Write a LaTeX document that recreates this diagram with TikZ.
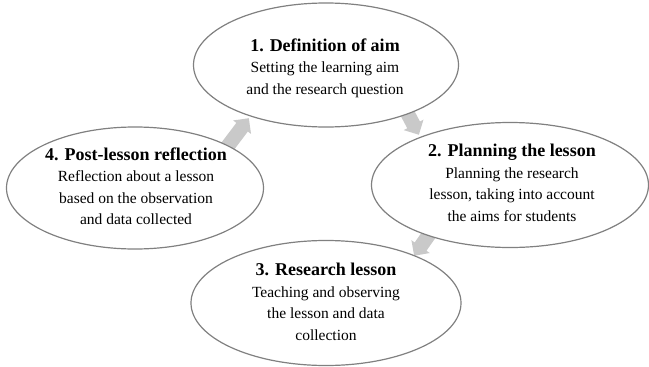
\documentclass[tikz,border=0pt]{standalone}
\usepackage{fontspec}
\setmainfont{Liberation Serif}
\usetikzlibrary{shapes.geometric,shapes.arrows}
\definecolor{ovalline}{HTML}{808080}
\definecolor{arrowfill}{HTML}{C9C9C9}
\tikzset{
  oval/.style={ellipse, draw=ovalline, line width=1.2pt, fill=white, inner sep=0pt},
  txt/.style={align=center, inner sep=0pt, font=\fontsize{15.5}{21.5}\selectfont},
  cyclearrow/.style={single arrow, fill=arrowfill, draw=none, minimum height=46pt,
    inner xsep=0pt, inner ysep=7pt, single arrow head extend=4pt},
}
\newcommand{\ttl}[1]{{\bfseries\fontsize{18}{21.5}\selectfont #1}}
\begin{document}
\begin{tikzpicture}[x=1pt,y=1pt]
  \useasboundingbox (0,0) rectangle (649,-367);
  % arrows of the cycle, mostly hidden behind the ovals
  \node[cyclearrow, rotate=-62, anchor=tip] (a12) at (419,-135) {};
  \node[cyclearrow, rotate=-125, anchor=tip] (a23) at (414,-256) {};
  \node[cyclearrow, rotate=132, anchor=tip] (a34) at (231,-258) {};
  \node[cyclearrow, rotate=53, anchor=tip] (a41) at (249,-118) {};
  % the four stages
  \node[oval, minimum width=265pt, minimum height=124pt] (e1) at (326,-65) {};
  \node[oval, minimum width=277pt, minimum height=125pt] (e2) at (510,-185) {};
  \node[oval, minimum width=270pt, minimum height=125pt] (e3) at (326,-303) {};
  \node[oval, minimum width=257pt, minimum height=122pt] (e4) at (135,-188) {};
  \node[txt] (t1) at (325,-68) {\ttl{1. Definition of aim}\\Setting the learning aim\\and the research question};
  \node[txt] (t2) at (512,-183) {\ttl{2. Planning the lesson}\\Planning the research\\lesson, taking into account\\the aims for students};
  \node[txt] (t3) at (326,-302) {\ttl{3. Research lesson}\\Teaching and observing\\the lesson and data\\collection};
  \node[txt] (t4) at (136,-186) {\ttl{4. Post-lesson reflection}\\Reflection about a lesson\\based on the observation\\and data collected};
\end{tikzpicture}
\end{document}
